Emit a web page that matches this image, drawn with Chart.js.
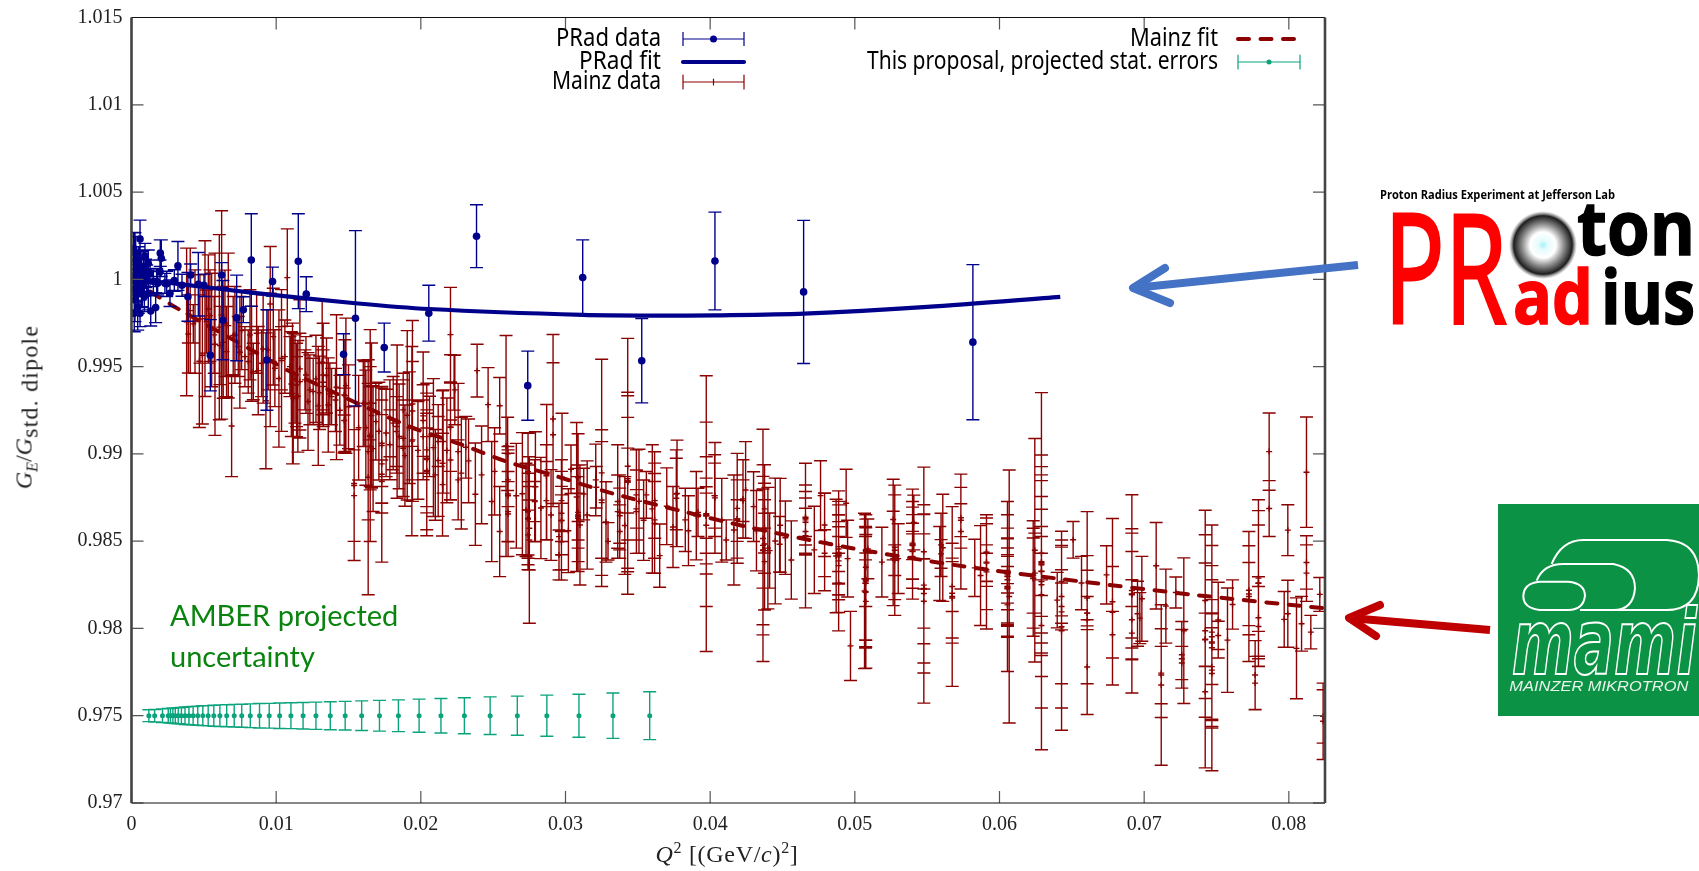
<!DOCTYPE html>
<html>
<head>
<meta charset="utf-8">
<title>Proton electric form factor</title>
<script src="https://cdn.jsdelivr.net/npm/chart.js@4"></script>
<style>
  html, body { margin: 0; padding: 0; background: #fff; }
  #wrap { position: relative; width: 1699px; height: 871px; overflow: hidden; }
  #chart { position: absolute; left: 0; top: 0; }
  .axisTitle { position: absolute; font-family: "Liberation Serif", serif; font-size: 24px; color: #222; white-space: nowrap; }
  .axisTitle sup { font-size: 16px; line-height: 0; }
  .axisTitle sub { font-size: 16px; line-height: 0; }
  .axisTitle sub.long { font-size: 24px; letter-spacing: 1.2px; }
  #xTitle { left: 727px; top: 854px; letter-spacing: 0.7px; transform: translate(-50%, -50%); }
  #yTitle { left: 24px; top: 407px; transform: translate(-50%, -50%) rotate(-90deg); }
  #amber { position: absolute; left: 170px; top: 594px; font-family: Lato, "Open Sans", sans-serif; font-size: 29px; line-height: 41px; color: #0a830f; }
  #logos { position: absolute; left: 0; top: 0; }
</style>
</head>
<body>
<div id="wrap">
  <canvas id="chart" width="1699" height="871"></canvas>
  <div class="axisTitle" id="xTitle"><i>Q</i><sup>2</sup> [(GeV/<i>c</i>)<sup>2</sup>]</div>
  <div class="axisTitle" id="yTitle"><i>G<sub>E</sub></i>/<i>G</i><sub class="long">std. dipole</sub></div>
  <div id="amber">AMBER projected<br>uncertainty</div>
  <svg id="logos" width="1699" height="871">
    <defs>
      <radialGradient id="proton">
        <stop offset="0" stop-color="#9ff4fa"/>
        <stop offset="0.14" stop-color="#e6fbfc"/>
        <stop offset="0.38" stop-color="#ffffff"/>
        <stop offset="0.62" stop-color="#8a8a8a"/>
        <stop offset="0.86" stop-color="#1e1e1e"/>
        <stop offset="1" stop-color="#777777" stop-opacity="0"/>
      </radialGradient>
    </defs>
    <!-- arrows -->
    <g fill="none" stroke="#4472c4" stroke-width="8" stroke-linecap="round" stroke-linejoin="round">
      <path d="M1358 265 L1134 288" stroke-linecap="butt"/>
      <path d="M1165 268 L1133 288 L1170 303"/>
    </g>
    <g fill="none" stroke="#c00000" stroke-width="8" stroke-linecap="round" stroke-linejoin="round">
      <path d="M1490 630 L1350 618" stroke-linecap="butt"/>
      <path d="M1380 605 L1349 618 L1376 636"/>
    </g>
    <!-- PRoton Radius logo -->
    <text x="1380" y="199" font-family="Open Sans" font-weight="700" font-size="11.5" textLength="235" lengthAdjust="spacingAndGlyphs">Proton Radius Experiment at Jefferson Lab</text>
    <text x="1384" y="323" font-family="Open Sans" font-size="152" fill="#ff0000" stroke="#ff0000" stroke-width="3" textLength="123" lengthAdjust="spacingAndGlyphs">PR</text>
    <text x="1513" y="324" font-family="Open Sans" font-weight="700" font-size="76" fill="#ff0000" stroke="#ff0000" stroke-width="1.5" textLength="80" lengthAdjust="spacingAndGlyphs">ad</text>
    <circle cx="1543" cy="245" r="34" fill="url(#proton)"/>
    <text x="1577" y="255" font-family="Open Sans" font-weight="700" font-size="76" stroke="#000" stroke-width="1.5" textLength="118" lengthAdjust="spacingAndGlyphs">ton</text>
    <text x="1601" y="324" font-family="Open Sans" font-weight="700" font-size="76" stroke="#000" stroke-width="1.5" textLength="94" lengthAdjust="spacingAndGlyphs">ius</text>
    <!-- MAMI logo -->
    <rect x="1498" y="504" width="201" height="212" fill="#0c9244"/>
    <g transform="translate(1320 490) scale(0.3333)" fill="none" stroke="#fff" stroke-width="6">
      <path d="M695 222 Q725 150 790 150 L1040 150 Q1135 155 1137 255 Q1135 360 1040 360 L780 360"/>
      <path d="M650 272 Q670 222 730 222 L880 222 Q945 235 945 295 Q940 360 880 360"/>
      <path d="M660 275 L745 275 Q795 280 795 318 Q790 360 745 360 L660 360 Q610 355 610 318 Q612 278 660 275 Z"/>
      <text x="575" y="553" font-family="DejaVu Sans" font-style="italic" font-weight="700" font-size="270" stroke-width="6" textLength="555" lengthAdjust="spacingAndGlyphs">mami</text>
      <text x="568" y="603" font-family="Liberation Sans" font-style="italic" font-size="46" fill="#e8f5ec" stroke="none" textLength="537" lengthAdjust="spacingAndGlyphs">MAINZER MIKROTRON</text>
    </g>
  </svg>
</div>
<script>
// axis ticks
const xTicks = [0, 0.01, 0.02, 0.03, 0.04, 0.05, 0.06, 0.07, 0.08];
const yTicks = [0.97, 0.975, 0.98, 0.985, 0.99, 0.995, 1, 1.005, 1.01, 1.015];

// PRad data
const pradQ2 = [0.00828,0.01153,0.01548,0.02055,0.01747,0.01466,0.01208,0.00975,0.00936,0.00773,
  0.00727,0.00632,0.00545,0.00623,0.00501,0.00462,0.00409,0.0039,0.00321,0.00349,
  0.00296,0.00266,0.00243,0.00206,0.00199,0.00167,0.00133,0.00181,0.00093,0.00059,
  0.02385,0.03119,0.04033,0.04646,0.03527,0.02739,0.05816,
  0.00024,0.00029,0.00036,0.00013,0.00019,0.00024,0.00043,0.00059,0.0007,0.00082,
  0.00105,0.00116,0.00128,0.00047,0.00066,0.00036,0.00089,0.00174,0.00231,
  0.00015,0.00031,0.0005,0.00075,0.00098,0.00116,0.00151,0.00197,0.00019,0.00059];
const pradG = [1.00111,1.00104,0.99777,0.99806,0.99609,0.99571,0.99915,0.99987,0.99538,0.99826,
  0.99779,0.99766,0.99565,1.00025,0.99966,0.99972,1.00025,0.999,1.00077,0.99966,
  0.99993,0.9992,0.99974,1.00121,1.0015,0.99838,0.99819,0.99978,1.00134,1.00231,
  1.00247,1.0001,1.00105,0.99928,0.99534,0.99391,0.9964,
  1.00149,1.00111,1.00063,0.99996,0.99939,0.99882,0.99843,1.00015,0.99958,1.00072,
  0.99996,0.9992,1.00034,0.9992,1.00053,0.99967,0.99901,0.99987,0.99977,
  1.00177,1.00025,1.00092,0.9992,1.00034,1.00092,0.99987,1.00044,0.99805,0.99805];
const pradErr = [0.00265,0.00272,0.00502,0.0016,0.0014,0.00117,0.001,0.00083,0.00288,0.00074,
  0.00245,0.00227,0.00204,0.00071,0.00064,0.00182,0.00063,0.0014,0.0014,0.00063,
  0.00062,0.00076,0.00072,0.00105,0.00076,0.00086,0.00086,0.00067,0.00072,0.00108,
  0.0018,0.00216,0.0028,0.0041,0.00242,0.00198,0.00444,
  0.00118,0.00134,0.00105,0.00115,0.00115,0.00124,0.00134,0.00115,0.00115,0.00095,
  0.00086,0.00095,0.00076,0.00115,0.00105,0.00095,0.00086,0.00076,0.00057,
  0.00091,0.00086,0.00095,0.00081,0.00081,0.00076,0.00067,0.00067,0.00105,0.00076];

// PRad fit
const pradFitQ2 = [0,0.0032,0.00828,0.01548,0.02055,0.0312,0.0365,0.0403,0.0465,0.055,0.0642];
const pradFitG = [1,0.99974,0.99924,0.99863,0.9983,0.99796,0.99792,0.99794,0.99804,0.99842,0.999];

// Mainz data
const mainzQ2 = [
  0.00381,0.00406,0.00439,0.00393,0.00469,0.0049,0.00508,0.00531,0.00577,0.00623,
  0.00607,0.00634,0.00669,0.00692,0.00749,0.00784,0.0083,0.00876,0.0091,0.00929,
  0.00959,0.00959,0.01019,0.01037,0.01077,0.01118,0.00554,0.00646,0.00715,0.00761,
  0.00819,0.00865,0.0098,0.0106,
  0.01113,0.01164,0.01164,0.01291,0.01318,0.01325,0.01417,0.0141,0.01482,0.01475,
  0.01539,0.01539,0.0165,0.01636,0.01636,0.01613,0.01659,0.0173,0.0173,0.0173,
  0.01836,0.01809,0.01878,0.01906,0.01942,0.01938,0.02016,0.02041,0.02041,0.02041,
  0.02087,0.0212,0.0215,0.02205,0.02235,0.02258,0.01233,0.01206,0.0113,0.01383,
  0.01348,
  0.02205,0.0223,0.02389,0.02465,0.02545,0.02589,0.026,0.02602,0.0249,0.02545,
  0.02377,0.02311,0.02258,0.02205,0.0215,0.0275,0.0275,0.02727,0.02702,0.02792,
  0.0287,0.02914,0.02914,0.02976,0.02955,0.02955,0.03077,0.03038,0.031,0.03126,
  0.03209,0.0325,0.0325,0.0325,0.03294,0.03361,0.03361,0.0343,0.0343,0.0343,
  0.0343,0.0343,0.03508,0.03559,0.036,0.03617,0.03651,0.03743,0.03771,0.03828,
  0.03904,0.03973,0.03973,0.03973,0.04033,0.04111,0.04164,0.04187,0.04245,0.043,
  0.04365,0.04365,0.04365,0.04365,0.04399,0.0445,0.04484,0.04561,0.04659,0.04659,
  0.04763,0.04791,0.04888,0.04871,0.04888,0.04888,0.0494,0.0497,0.05067,0.05074,
  0.05076,0.05076,0.05076,0.05076,0.0509,0.05187,0.05265,0.05276,0.05276,0.05265,
  0.05399,0.05399,0.05399,0.05408,0.05477,0.05477,0.05477,0.05477,0.05477,0.05608,
  0.05587,0.05673,0.05673,0.05733,0.05733,0.05733,0.05829,0.05869,0.0591,0.0591,
  0.0591,0.06067,0.06055,0.06055,0.06055,0.06055,0.06055,0.06055,0.0629,0.06244,
  0.0629,0.0629,0.0629,0.0629,0.0629,0.0629,0.06233,0.06233,0.06233,0.06429,
  0.06429,0.06429,0.06429,0.06399,0.06509,0.06606,0.06606,0.06606,0.06567,0.06781,
  0.06781,0.0674,0.06915,0.06915,0.06915,0.06915,0.06984,0.06954,0.07083,0.0715,
  0.07118,0.07118,0.07219,0.07274,0.0726,0.0726,0.07422,0.07422,0.07422,0.07468,
  0.07468,0.07468,0.07468,0.07512,0.07611,0.07576,0.07724,0.07724,0.07724,0.0779,
  0.0779,0.0779,0.07767,0.07864,0.07864,0.07993,0.08122,0.08122,0.08122,0.07968,
  0.08053,0.08088,0.08152,0.08214,0.08237,0.08237,
  0.02603,0.02603,0.02603,0.02603,0.02741,0.02741,0.02741,0.02741,0.02741,0.02787,
  0.02787,0.02868,0.02868,0.02972,0.02972,0.02972,0.02972,0.02972,0.03087,0.03087,
  0.03087,0.03087,0.03087,0.03213,0.03375,0.03375,0.03375,0.0349,0.0349,0.0349,
  0.03616,0.03616,0.03616,0.03766,0.03766,0.03916,0.03973,0.03973,0.03973,0.04031,
  0.04031,0.04187,0.04187,0.04187,0.04227,0.04227,0.04376,0.04376,0.04376,0.04376,
  0.04376,0.04411,0.0448,0.04659,0.04659,0.04659,0.04659,0.04791,0.04791,0.04888,
  0.04888,0.04888,0.04888,0.04888,0.04888,0.05074,0.05074,0.05074,
  0.05076,0.05276,0.05399,0.05399,0.05399,0.05399,0.05477,0.05477,0.05596,0.05596,
  0.05673,0.05673,0.0591,0.0591,0.0591,0.06055,0.06055,0.06055,0.06055,0.0629,
  0.0629,0.0629,0.0629,0.06244,0.06429,0.06429,0.06606,0.06606,0.06781,0.06915,
  0.06915,0.0697,0.07118,0.0726,0.07468,0.07468,0.07468,0.07468,0.07422,0.07422,
  0.07512,0.0779,0.0779,0.07767,0.07993,
  0.01141,0.01141,0.01199,0.01256,0.01325,0.01325,0.01371,0.0147,0.0147,0.01539,
  0.01602,0.0165,0.0165,0.0165,0.01689,0.0173,0.0173,0.01786,0.01786,0.01832,
  0.01832,0.01878,0.01878,0.01942,0.01942,0.02016,0.02016,0.02041,0.02041,0.0212,
  0.02154,0.02205,
  0.00393,0.00427,0.00473,0.00519,0.00542,0.00572,0.00611,0.00657,0.00703,0.00738,
  0.00807,0.00842,0.00899,0.00945,0.00991,0.01037,0.01095,
  0.01105,0.0115,0.0122,0.01275,0.013,0.0136,0.0144,0.015,0.0157,0.0162,
  0.0167,0.0171,0.0176,0.0185,0.0189,0.0192,0.0198,0.0206,0.021,0.0218,
  0.0228,0.0233,0.0242,0.0251,0.0266,0.0283,0.029,0.0302,0.0315,0.0328,
  0.0341,0.0354,0.037,0.0385,0.0408,0.0432,0.0452,0.0472,0.0495,0.053];
const mainzG = [
  0.99756,0.99821,0.99758,0.99802,0.99531,0.99565,0.99775,0.9983,0.99628,0.99796,
  0.99726,0.99639,0.99735,0.9916,0.99582,0.99557,0.99573,0.99477,0.99601,0.99304,
  0.99859,0.99538,0.99432,0.99535,1.0001,0.99317,0.9971,0.99748,0.99682,0.99707,
  0.99682,0.99691,0.99672,0.99557,
  0.99346,0.99487,0.99414,0.99275,0.99525,0.99452,0.99382,0.99309,0.99391,0.99334,
  0.9883,0.98819,0.99105,0.98866,0.99013,0.99286,0.9922,0.98883,0.98943,0.98841,
  0.99185,0.99176,0.9909,0.99221,0.99246,0.99073,0.99218,0.98968,0.99023,0.98899,
  0.99036,0.98962,0.98946,0.99153,0.99367,0.99013,0.99367,0.99452,0.99429,0.99328,
  0.99449,
  0.99683,0.99408,0.99477,0.99282,0.99276,0.99045,0.99,0.9877,0.98727,0.98555,
  0.98769,0.99038,0.98851,0.98965,0.98824,0.98507,0.98574,0.98679,0.98772,0.98812,
  0.98895,0.992,0.9911,0.98866,0.98421,0.98526,0.98753,0.98912,0.98593,0.9877,
  0.98851,0.98891,0.98721,0.98736,0.98499,0.98727,0.98669,0.98929,0.98839,0.98839,
  0.98858,0.98847,0.98729,0.98765,0.98685,0.98732,0.98417,0.98581,0.98774,0.98622,
  0.98646,0.98658,0.98654,0.98648,0.98748,0.98507,0.98564,0.98688,0.98793,0.98698,
  0.98476,0.9845,0.98446,0.98515,0.9846,0.98501,0.98591,0.98392,0.98532,0.98608,
  0.98761,0.98496,0.98387,0.98415,0.98421,0.98419,0.98717,0.979,0.98215,0.98207,
  0.98272,0.98279,0.98155,0.98351,0.98456,0.9838,0.98624,0.98448,0.98465,0.98401,
  0.98483,0.98479,0.98489,0.98607,0.98248,0.98227,0.98229,0.98227,0.982,0.98462,
  0.98372,0.98183,0.98202,0.98555,0.98634,0.9862,0.98347,0.98303,0.98324,0.98437,
  0.98435,0.98183,0.9824,0.983,0.98298,0.98311,0.98332,0.98279,0.98328,0.98448,
  0.98269,0.98326,0.9837,0.98382,0.98365,0.98376,0.98286,0.98288,0.98303,0.97987,
  0.9801,0.98095,0.98183,0.98162,0.98508,0.98088,0.9805,0.98174,0.9826,0.98153,
  0.98093,0.98307,0.98198,0.98198,0.98217,0.98193,0.9817,0.98084,0.98359,0.98128,
  0.97676,0.97733,0.98206,0.97987,0.97849,0.97802,0.97939,0.9816,0.97987,0.97889,
  0.97952,0.97916,0.97979,0.98048,0.98137,0.97933,0.98183,0.98219,0.98197,0.9826,
  0.98258,0.98288,0.97733,0.99013,0.98687,0.98563,0.98895,0.98378,0.98317,0.98052,
  0.97886,0.98027,0.97979,0.98195,0.97468,0.97496,
  0.9876,0.98851,0.98656,0.98669,0.98669,0.98627,0.98631,0.98536,0.98898,0.98732,
  0.98727,0.98875,0.98732,0.98732,0.98618,0.98618,0.98497,0.9866,0.98631,0.9865,
  0.98665,0.98641,0.98864,0.98809,0.98665,0.98646,0.98555,0.98765,0.98669,0.98685,
  0.98707,0.98602,0.98622,0.98746,0.9877,0.98665,0.98646,0.98591,0.98646,0.98761,
  0.98761,0.98627,0.98627,0.98618,0.98742,0.98732,0.98685,0.98574,0.98484,0.98383,
  0.98446,0.98446,0.98482,0.98622,0.98631,0.98637,0.98555,0.98431,0.98593,0.9841,
  0.98436,0.98455,0.98469,0.9836,0.98261,0.98259,0.98211,0.98259,
  0.98279,0.98391,0.98441,0.98443,0.98475,0.98412,0.98439,0.98156,0.98479,0.98427,
  0.98174,0.9824,0.98336,0.98374,0.9838,0.98237,0.98227,0.98231,0.98135,0.98193,
  0.9825,0.98017,0.98431,0.98317,0.98269,0.98126,0.98088,0.97779,0.97964,0.9805,
  0.97973,0.98059,0.97744,0.97826,0.97761,0.97922,0.97781,0.97742,0.97935,0.97637,
  0.9796,0.98011,0.98061,0.97687,0.98084,
  0.99395,0.99328,0.99424,0.99357,0.9941,0.99386,0.99344,0.99338,0.99191,0.98761,
  0.9929,0.9929,0.99099,0.99042,0.99185,0.99048,0.99061,0.99204,0.99052,0.99157,
  0.99128,0.99252,0.99032,0.99286,0.9908,0.99191,0.99099,0.98975,0.98905,0.99071,
  0.99071,0.99153,
  0.99687,0.99745,0.99773,0.99758,0.99792,0.99682,0.99621,0.99586,0.99678,0.99615,
  0.99529,0.99472,0.99519,0.99596,0.99491,0.99548,0.995,
  0.994,0.9933,0.993,0.9943,0.9935,0.9928,0.9925,0.9927,0.9915,0.9915,
  0.9903,0.9913,0.9912,0.991,0.9899,0.9915,0.9902,0.991,0.9888,0.9902,
  0.9889,0.9896,0.9888,0.989,0.9876,0.9869,0.9865,0.9856,0.9865,0.9861,
  0.9859,0.9862,0.987,0.9856,0.9862,0.9856,0.9852,0.9845,0.984,0.984];
const mainzErr = [
  0.00423,0.00358,0.00296,0.00167,0.0038,0.00394,0.00446,0.0031,0.00522,0.00597,
  0.0053,0.0032,0.00415,0.0029,0.0032,0.00172,0.00272,0.00253,0.0031,0.00389,
  0.00329,0.00382,0.00393,0.00406,0.00279,0.00374,0.00325,0.00305,0.00277,0.00224,
  0.00258,0.00229,0.00277,0.0021,
  0.00403,0.00396,0.00277,0.00341,0.00358,0.00296,0.00415,0.00181,0.00387,0.0032,
  0.00441,0.0032,0.00607,0.00673,0.00391,0.00243,0.00415,0.00503,0.00282,0.00124,
  0.00439,0.00267,0.00334,0.00485,0.00518,0.00542,0.00366,0.00437,0.00325,0.00334,
  0.00395,0.0032,0.00416,0.00415,0.002,0.00391,0.002,0.0022,0.00253,0.00162,
  0.00215,
  0.00271,0.00157,0.00151,0.00212,0.00162,0.00633,0.0021,0.00272,0.00344,0.00258,
  0.00293,0.00177,0.00229,0.00229,0.00294,0.00477,0.00239,0.00267,0.0035,0.00315,
  0.00388,0.00484,0.00412,0.00367,0.00143,0.00191,0.00427,0.00139,0.00344,0.00148,
  0.00205,0.00651,0.00417,0.00334,0.00107,0.00325,0.0021,0.00733,0.00514,0.00494,
  0.00351,0.00186,0.00298,0.00134,0.00367,0.00215,0.00181,0.00232,0.00305,0.00181,
  0.00253,0.0079,0.00528,0.00336,0.00317,0.00115,0.00315,0.00315,0.00277,0.002,
  0.00665,0.00487,0.00425,0.00284,0.00348,0.0036,0.00269,0.00224,0.00414,0.00177,
  0.002,0.0028,0.00401,0.00325,0.00229,0.00164,0.00195,0.00198,0.00445,0.0032,
  0.00379,0.00347,0.00383,0.00225,0.00171,0.002,0.00231,0.00373,0.003,0.0027,
  0.00315,0.00248,0.00206,0.00157,0.00676,0.00482,0.00427,0.00315,0.00198,0.00307,
  0.00212,0.00515,0.00286,0.00329,0.00174,0.00094,0.00164,0.00286,0.00327,0.00196,
  0.00165,0.00725,0.00487,0.00351,0.00277,0.00203,0.00129,0.00134,0.01023,0.0064,
  0.00725,0.00601,0.0051,0.00465,0.00391,0.00307,0.00331,0.00286,0.00215,0.0057,
  0.00466,0.00412,0.00153,0.00159,0.00105,0.00581,0.00367,0.00159,0.00153,0.00477,
  0.00262,0.00167,0.00568,0.00373,0.00329,0.00248,0.00243,0.00186,0.00248,0.00212,
  0.0046,0.00164,0.00089,0.00417,0.00191,0.00095,0.00738,0.00377,0.00388,0.00704,
  0.00523,0.00444,0.003,0.00217,0.00141,0.00299,0.00372,0.00255,0.00181,0.00477,
  0.00417,0.00305,0.00197,0.00221,0.0016,0.00146,0.00316,0.00153,0.00162,0.0016,
  0.00289,0.00157,0.00096,0.00097,0.00219,0.00153,
  0.00263,0.00153,0.00243,0.00172,0.00267,0.00262,0.0021,0.002,0.0022,0.00234,
  0.00115,0.00177,0.00224,0.00234,0.00282,0.00196,0.0022,0.00105,0.00305,0.00267,
  0.00205,0.00134,0.00251,0.00119,0.00215,0.00158,0.00153,0.00258,0.00239,0.0011,
  0.00305,0.00286,0.0022,0.00277,0.00205,0.00138,0.00215,0.00221,0.00129,0.00234,
  0.00186,0.00253,0.00224,0.00119,0.00224,0.00119,0.00253,0.00258,0.00253,0.00277,
  0.00129,0.00215,0.00159,0.002,0.00153,0.0011,0.00134,0.00134,0.00181,0.00318,
  0.00272,0.00196,0.00143,0.00167,0.0017,0.00325,0.00315,0.00134,
  0.00153,0.00088,0.00211,0.0016,0.00081,0.0013,0.00213,0.00243,0.00181,0.00082,
  0.00229,0.00143,0.00095,0.00105,0.00272,0.00282,0.00196,0.00124,0.00122,0.00334,
  0.00181,0.00172,0.00153,0.00229,0.00197,0.00134,0.00095,0.00271,0.00134,0.00229,
  0.00153,0.00146,0.00254,0.00168,0.00323,0.00243,0.00308,0.00262,0.00153,0.00146,
  0.00081,0.00229,0.00235,0.00153,0.00192,
  0.00239,0.00229,0.00172,0.00191,0.00186,0.00134,0.00177,0.00115,0.00186,0.00262,
  0.00248,0.0021,0.00286,0.00248,0.0022,0.00329,0.00248,0.0022,0.002,0.00267,
  0.002,0.0021,0.00277,0.00243,0.00229,0.00205,0.0021,0.00277,0.00243,0.00143,
  0.00296,0.00253,
  0.00224,0.0011,0.00253,0.00181,0.00262,0.0022,0.00224,0.00258,0.00224,0.00172,
  0.00181,0.00162,0.00191,0.00229,0.0022,0.00181,0.00172,
  0.003,0.0032,0.0028,0.0025,0.0021,0.0027,0.002,0.0024,0.003,0.0033,
  0.0036,0.0028,0.0025,0.003,0.0029,0.0032,0.0028,0.0023,0.0026,0.003,
  0.0032,0.0024,0.0028,0.0025,0.003,0.0029,0.0026,0.0024,0.0031,0.0023,
  0.0028,0.0023,0.0022,0.002,0.0024,0.0023,0.0021,0.0025,0.0022,0.002];

// Mainz fit
const mainzFitQ2 = [0,0.003,0.00842,0.01118,0.01924,0.0227,0.02592,0.02892,0.03327,0.0379,0.0425,0.0471,0.0501,0.05726,0.06417,0.07339,0.0825];
const mainzFitG = [1,0.99842,0.9959,0.99463,0.99156,0.99057,0.98956,0.98883,0.98773,0.98675,0.98583,0.98503,0.98455,0.98359,0.98284,0.98193,0.98115];

// projected AMBER points, all on 0.975
const amberQ2 = [0.0012,0.0016,0.00214,0.00254,0.00269,0.00286,0.00303,0.00323,0.00345,0.0037,
  0.00397,0.00426,0.00458,0.00493,0.0053,0.00569,0.00611,0.00658,0.0071,0.00762,
  0.00821,0.00885,0.00952,0.01024,0.01102,0.01186,0.01275,0.01374,0.01477,0.01591,
  0.01714,0.01845,0.01988,0.02139,0.02301,0.02479,0.02667,0.02871,0.03093,0.03328,0.03582];
const amberErr = [0.00034,0.00036,0.00039,0.00041,0.00042,0.00044,0.00045,0.00046,0.00048,0.0005,
  0.00052,0.00053,0.00055,0.00057,0.00058,0.0006,0.00062,0.00063,0.00065,0.00066,
  0.00068,0.0007,0.00071,0.00073,0.00074,0.00076,0.00078,0.0008,0.00082,0.00085,
  0.00088,0.00091,0.00095,0.00099,0.00103,0.00108,0.00112,0.00118,0.00123,0.0013,0.00137];

const blue = '#00008b';
const red = '#8b0000';
const green = '#0aa37c';

function pairs(xs, ys) {
  return xs.map((x, i) => ({ x: x, y: ys[i] }));
}

// gnuplot style error bars, drawn under the points of each dataset
const errorBars = {
  id: 'errorBars',
  beforeDatasetDraw(chart, args) {
    const ds = chart.data.datasets[args.index];
    if (!ds.errs) return;
    const { ctx, chartArea: a, scales: { x, y } } = chart;
    ctx.save();
    ctx.beginPath();
    ctx.rect(a.left, a.top, a.width, a.height);
    ctx.clip();
    ctx.strokeStyle = ds.borderColor;
    ctx.lineWidth = 1.4;
    ctx.beginPath();
    ds.data.forEach((p, i) => {
      const px = x.getPixelForValue(p.x);
      const top = y.getPixelForValue(p.y + ds.errs[i]);
      const bot = y.getPixelForValue(p.y - ds.errs[i]);
      ctx.moveTo(px, top);
      ctx.lineTo(px, bot);
      ctx.moveTo(px - 6.5, top);
      ctx.lineTo(px + 6.5, top);
      ctx.moveTo(px - 6.5, bot);
      ctx.lineTo(px + 6.5, bot);
    });
    ctx.stroke();
    ctx.restore();
  }
};

// box with inward ticks on all four sides
const frame = {
  id: 'frame',
  afterDraw(chart) {
    const { ctx, chartArea: a, scales: { x, y } } = chart;
    ctx.save();
    ctx.strokeStyle = '#555';
    ctx.lineWidth = 1.2;
    ctx.beginPath();
    xTicks.forEach(t => {
      const px = x.getPixelForValue(t);
      ctx.moveTo(px, a.bottom); ctx.lineTo(px, a.bottom - 12);
      ctx.moveTo(px, a.top); ctx.lineTo(px, a.top + 12);
    });
    yTicks.forEach(t => {
      const py = y.getPixelForValue(t);
      ctx.moveTo(a.left, py); ctx.lineTo(a.left + 12, py);
      ctx.moveTo(a.right, py); ctx.lineTo(a.right - 12, py);
    });
    ctx.stroke();
    ctx.strokeStyle = '#111';
    ctx.lineWidth = 1.2;
    ctx.beginPath();
    ctx.moveTo(a.left, a.top); ctx.lineTo(a.right, a.top);
    ctx.moveTo(a.left, a.bottom); ctx.lineTo(a.right, a.bottom);
    ctx.stroke();
    ctx.strokeStyle = '#444';
    ctx.lineWidth = 2.6;
    ctx.beginPath();
    ctx.moveTo(a.left, a.top); ctx.lineTo(a.left, a.bottom);
    ctx.moveTo(a.right, a.top); ctx.lineTo(a.right, a.bottom);
    ctx.stroke();
    ctx.restore();
  }
};

// key inside the plot, two columns like gnuplot
const keyEntries = [
  { label: 'PRad data', color: blue, kind: 'bar', dot: 3.5, textRight: 661, x0: 683, x1: 744, y: 39, w: 105 },
  { label: 'PRad fit', color: blue, kind: 'line', textRight: 661, x0: 683, x1: 744, y: 62, w: 82 },
  { label: 'Mainz data', color: red, kind: 'bar', cross: true, textRight: 661, x0: 683, x1: 744, y: 82, w: 109 },
  { label: 'Mainz fit', color: red, kind: 'dash', textRight: 1218, x0: 1238, x1: 1300, y: 39, w: 88 },
  { label: 'This proposal, projected stat. errors', color: green, kind: 'bar', dot: 2.5, textRight: 1218, x0: 1238, x1: 1300, y: 62, w: 351 }
];

const key = {
  id: 'key',
  afterDraw(chart) {
    const ctx = chart.ctx;
    ctx.save();
    keyEntries.forEach(e => {
      ctx.font = '25px "Noto Sans"';
      ctx.fillStyle = '#000';
      ctx.textAlign = 'right';
      ctx.textBaseline = 'middle';
      ctx.fillText(e.label, e.textRight, e.y, e.w);
      ctx.strokeStyle = e.color;
      ctx.fillStyle = e.color;
      if (e.kind === 'bar') {
        ctx.lineWidth = 1.2;
        ctx.beginPath();
        ctx.moveTo(e.x0, e.y); ctx.lineTo(e.x1, e.y);
        ctx.moveTo(e.x0, e.y - 7); ctx.lineTo(e.x0, e.y + 7);
        ctx.moveTo(e.x1, e.y - 7); ctx.lineTo(e.x1, e.y + 7);
        ctx.stroke();
        const mx = (e.x0 + e.x1) / 2;
        if (e.cross) {
          ctx.beginPath();
          ctx.moveTo(mx, e.y - 3); ctx.lineTo(mx, e.y + 3);
          ctx.stroke();
        } else {
          ctx.beginPath();
          ctx.arc(mx, e.y, e.dot, 0, 2 * Math.PI);
          ctx.fill();
        }
      } else {
        ctx.lineWidth = e.kind === 'line' ? 4.2 : 4;
        ctx.lineCap = 'round';
        ctx.setLineDash(e.kind === 'dash' ? [11, 11.5] : []);
        ctx.beginPath();
        ctx.moveTo(e.x0, e.y); ctx.lineTo(e.x1, e.y);
        ctx.stroke();
        ctx.setLineDash([]);
      }
    });
    ctx.restore();
  }
};

new Chart(document.getElementById('chart'), {
  type: 'scatter',
  plugins: [errorBars, frame, key],
  data: {
    datasets: [
      {
        label: 'PRad fit', type: 'line', order: 1,
        data: pairs(pradFitQ2, pradFitG),
        borderColor: blue, borderWidth: 4.2, pointRadius: 0, tension: 0.3
      },
      {
        label: 'PRad data', order: 2,
        data: pairs(pradQ2, pradG), errs: pradErr,
        borderColor: blue, backgroundColor: blue, pointRadius: 3.8, pointBorderWidth: 0
      },
      {
        label: 'This proposal, projected stat. errors', order: 3,
        data: amberQ2.map(q => ({ x: q, y: 0.975 })), errs: amberErr,
        borderColor: green, backgroundColor: green, pointRadius: 2.5, pointBorderWidth: 0
      },
      {
        label: 'Mainz fit', type: 'line', order: 4,
        data: pairs(mainzFitQ2, mainzFitG),
        borderColor: red, borderWidth: 4, pointRadius: 0, borderDash: [11, 11.5], borderCapStyle: 'round', tension: 0.3
      },
      {
        label: 'Mainz data', order: 5,
        data: pairs(mainzQ2, mainzG), errs: mainzErr,
        borderColor: red, backgroundColor: red, pointStyle: 'cross', pointRadius: 3, pointBorderWidth: 1.4, pointBorderColor: red
      }
    ]
  },
  options: {
    responsive: false,
    animation: false,
    layout: { padding: { top: 17.5, right: 374, bottom: 0, left: 0 } },
    plugins: { legend: { display: false }, tooltip: { enabled: false } },
    scales: {
      x: {
        type: 'linear', min: 0, max: 0.0825,
        grid: { display: false }, border: { display: false },
        afterBuildTicks: s => { s.ticks = xTicks.map(v => ({ value: v })); },
        afterFit: s => { s.height = 68; },
        ticks: {
          autoSkip: false, maxRotation: 0, padding: 2, color: '#222',
          font: { family: '"Liberation Serif"', size: 20 },
          callback: v => String(+v.toFixed(3))
        }
      },
      y: {
        type: 'linear', min: 0.97, max: 1.015,
        grid: { display: false }, border: { display: false },
        afterBuildTicks: s => { s.ticks = yTicks.map(v => ({ value: v })); },
        afterFit: s => { s.width = 131.5; },
        ticks: {
          autoSkip: false, padding: 1, color: '#222',
          font: { family: '"Liberation Serif"', size: 20 },
          callback: v => String(+v.toFixed(3))
        }
      }
    }
  }
});
</script>
</body>
</html>
